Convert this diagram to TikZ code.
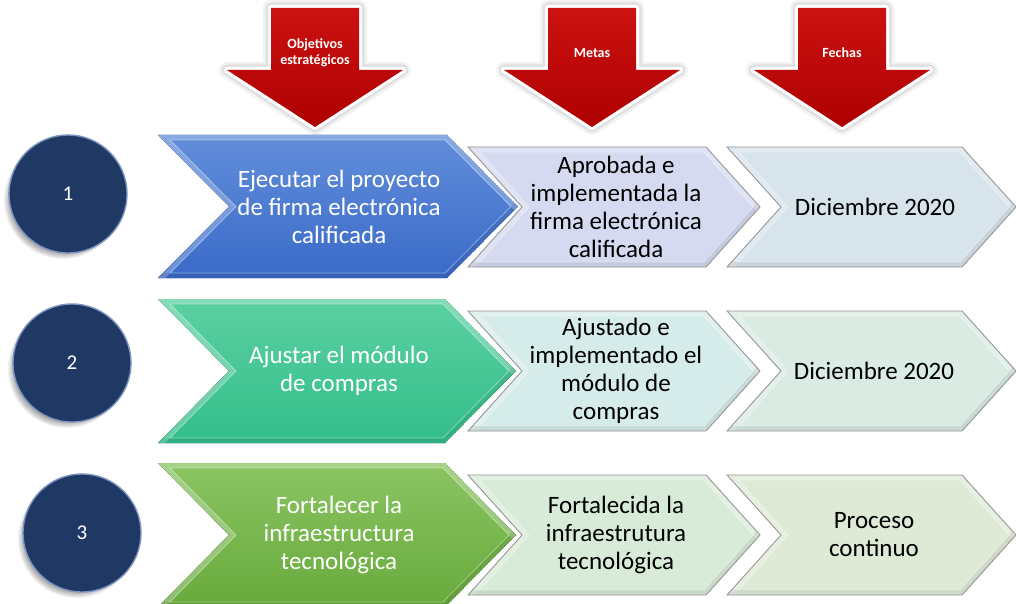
\documentclass[tikz,border=0pt]{standalone}
\usepackage{fontspec}
\setmainfont{Carlito}
\definecolor{navy}{RGB}{32,56,100}
\definecolor{navyrim}{RGB}{125,148,190}
\definecolor{bluetop}{RGB}{98,142,218}
\definecolor{bluebot}{RGB}{58,106,200}
\definecolor{tealtop}{RGB}{92,208,162}
\definecolor{tealbot}{RGB}{50,190,138}
\definecolor{greentop}{RGB}{138,196,98}
\definecolor{greenbot}{RGB}{104,170,60}
\definecolor{mone}{RGB}{214,218,240}
\definecolor{fone}{RGB}{216,228,236}
\definecolor{mtwo}{RGB}{214,236,234}
\definecolor{ftwo}{RGB}{217,235,226}
\definecolor{mthree}{RGB}{216,235,216}
\definecolor{fthree}{RGB}{223,234,214}
\definecolor{redtop}{RGB}{204,18,18}
\definecolor{redbot}{RGB}{174,0,0}
\definecolor{edgegray}{RGB}{150,150,150}
\tikzset{
  bigtext/.style={text=white, align=center, font=\fontsize{25}{28}\selectfont},
  lighttext/.style={text=black, align=center, font=\fontsize{25}{28}\selectfont},
  arrowtext/.style={text=white, align=center, font=\bfseries\fontsize{14}{16}\selectfont},
  numcirc/.style={circle, minimum size=118pt, inner sep=0pt, fill=navy, draw=navyrim,
    line width=1.4pt, text=white, font=\fontsize{21}{24}\selectfont},
  lightedge/.style={draw=edgegray, line width=0.9pt},
  noedge/.style={draw=none},
}
% #1 L, #2 T, #3 B, #4 R (corner), #5 depth, #6 fill options, #7 outline options
\newcommand\chevron[7]{%
  \coordinate (q1) at (#1,#2);
  \coordinate (q2) at (#4,#2);
  \coordinate (q3) at ({#4+#5},{(#2+#3)/2});
  \coordinate (q4) at (#4,#3);
  \coordinate (q5) at (#1,#3);
  \coordinate (q6) at ({#1+#5},{(#2+#3)/2});
  \coordinate (r1) at ({#1+12},{#2+5});
  \coordinate (r2) at ({#4-2},{#2+5});
  \coordinate (r3) at ({#4+#5-7},{(#2+#3)/2});
  \coordinate (r4) at ({#4-2},{#3-5});
  \coordinate (r5) at ({#1+12},{#3-5});
  \coordinate (r6) at ({#1+#5+7},{(#2+#3)/2});
  \begin{scope}
    \clip (q1)--(q2)--(q3)--(q4)--(q5)--(q6)--cycle;
    \fill[#6] (q1)--(q2)--(q3)--(q4)--(q5)--(q6)--cycle;
    \draw[white, opacity=.25, line width=10pt, line join=miter] (q5)--(q6)--(q1)--(q2)--(q3);
    \draw[black, opacity=.07, line width=10pt] (q3)--(q4)--(q5);
    \draw[white, opacity=.4, line width=0.8pt] (r1)--(r2)--(r3)--(r4)--(r5)--(r6)--cycle;
  \end{scope}
  \draw[#7, line join=miter] (q1)--(q2)--(q3)--(q4)--(q5)--(q6)--cycle;
}
\newcommand\redarrow[1]{%
  \coordinate (s1) at ({#1-44},8);
  \coordinate (s2) at ({#1+44},8);
  \coordinate (s3) at ({#1+44},70);
  \coordinate (s4) at ({#1+88},70);
  \coordinate (s5) at (#1,127);
  \coordinate (s6) at ({#1-88},70);
  \coordinate (s7) at ({#1-44},70);
  \begin{scope}[shift={(0,2)}]
    \draw[black, opacity=.05, line width=16pt, line join=round] (s1)--(s2)--(s3)--(s4)--(s5)--(s6)--(s7)--cycle;
    \draw[black, opacity=.07, line width=11pt, line join=round] (s1)--(s2)--(s3)--(s4)--(s5)--(s6)--(s7)--cycle;
  \end{scope}
  \draw[white, line width=6pt, line join=round] (s1)--(s2)--(s3)--(s4)--(s5)--(s6)--(s7)--cycle;
  \shade[top color=redtop, bottom color=redbot] (s1)--(s2)--(s3)--(s4)--(s5)--(s6)--(s7)--cycle;
}
\newcommand\softshadow[2]{%
  \foreach \k in {0,...,7} {\fill[black, opacity=.05] ({#1-5},{#2+6}) circle ({52+\k});}
}
\begin{document}
\begin{tikzpicture}[x=1pt,y=-1pt]
\fill[white] (0,0) rectangle (1016,604);
\useasboundingbox (0,0) rectangle (1016,604);

% header arrows
\redarrow{315}
\redarrow{592}
\redarrow{842}
\node[arrowtext] (h1) at (315,53) {Objetivos\\estratégicos};
\node[arrowtext] (h2) at (592,53) {Metas};
\node[arrowtext] (h3) at (842,53) {Fechas};

% row 1
\chevron{158}{135}{278}{447}{71}{top color=bluetop, bottom color=bluebot}{noedge}
\chevron{468}{147}{267}{706}{54}{fill=mone}{lightedge}
\chevron{727}{147}{267}{962}{54}{fill=fone}{lightedge}
% row 2
\chevron{158}{299}{443}{445}{71}{top color=tealtop, bottom color=tealbot}{noedge}
\chevron{468}{311}{431}{706}{54}{fill=mtwo}{lightedge}
\chevron{727}{311}{431}{962}{54}{fill=ftwo}{lightedge}
% row 3
\chevron{158}{463}{607}{445}{71}{top color=greentop, bottom color=greenbot}{noedge}
\chevron{468}{475}{595}{706}{54}{fill=mthree}{lightedge}
\chevron{727}{475}{595}{962}{54}{fill=fthree}{lightedge}

% texts
\node[bigtext] (o1) at (339,207) {Ejecutar el proyecto\\de firma electrónica\\calificada};
\node[lighttext] (g1) at (616,207) {Aprobada e\\implementada la\\firma electrónica\\calificada};
\node[lighttext] (d1) at (875,207) {Diciembre 2020};
\node[bigtext] (o2) at (339,371) {Ajustar el módulo\\de compras};
\node[lighttext] (g2) at (616,371) {Ajustado e\\implementado el\\módulo de\\compras};
\node[lighttext] (d2) at (874,371) {Diciembre 2020};
\node[bigtext] (o3) at (339,535) {Fortalecer la\\infraestructura\\tecnológica};
\node[lighttext] (g3) at (616,535) {Fortalecida la\\infraestrutura\\tecnológica};
\node[lighttext] (d3) at (874,535) {Proceso\\continuo};

% numbered circles
\softshadow{68}{194}
\softshadow{72}{363}
\softshadow{82}{533}
\node[numcirc] (c1) at (68,194) {1};
\node[numcirc] (c2) at (72,363) {2};
\node[numcirc] (c3) at (82,533) {3};
\end{tikzpicture}
\end{document}
